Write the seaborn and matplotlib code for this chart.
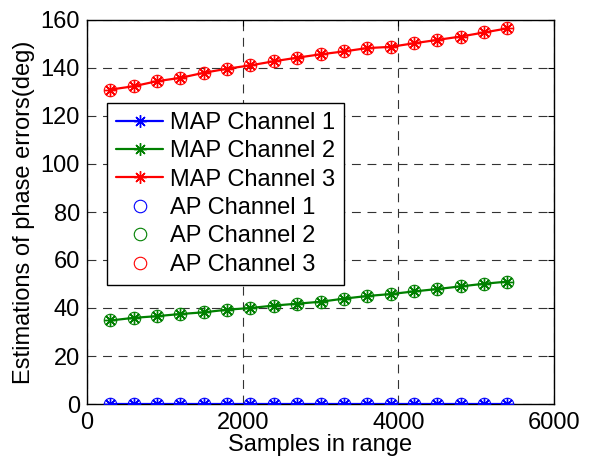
import matplotlib
matplotlib.use("Agg")
import matplotlib.pyplot as plt
import seaborn as sns
import pandas as pd

samples = [300, 600, 900, 1200, 1500, 1800, 2100, 2400, 2700, 3000,
           3300, 3600, 3900, 4200, 4500, 4800, 5100, 5400]
channel1 = [0.0] * 18
channel2 = [34.8, 35.9, 36.6, 37.5, 38.2, 39.3, 40.0, 41.0, 41.8, 42.6,
            43.9, 45.0, 45.8, 46.9, 47.9, 49.0, 50.1, 51.0]
channel3 = [131.0, 132.4, 134.5, 135.9, 138.0, 139.7, 141.1, 142.8, 144.3, 145.7,
            146.9, 148.3, 148.8, 150.3, 151.7, 153.1, 154.8, 156.5]
channel_names = ["Channel 1", "Channel 2", "Channel 3"]
colors = ["#0000ff", "#008000", "#ff0000"]
x_ticks = [0, 2000, 4000, 6000]
y_ticks = [0, 20, 40, 60, 80, 100, 120, 140, 160]

sns.set_theme(style="white")
plt.rcParams['font.family'] = ['Liberation Sans', 'DejaVu Sans']
plt.rcParams['text.color'] = 'black'
plt.rcParams['axes.labelcolor'] = 'black'

fig = plt.figure(figsize=(6.09, 4.61), dpi=100)
ax = fig.add_axes([87/609, 57/461, 467/609, 384/461])

asterisk = (8, 2, 0)
series = [channel1, channel2, channel3]
for name, vals, c in zip(channel_names, series, colors):
    df = pd.DataFrame({"x": samples, "y": vals})
    sns.lineplot(data=df, x="x", y="y", ax=ax, color=c, linewidth=1.6,
                 marker=asterisk, markersize=9, markeredgecolor=c, markerfacecolor=c,
                 markeredgewidth=1.0, label="MAP " + name, zorder=3)
for name, vals, c in zip(channel_names, series, colors):
    df = pd.DataFrame({"x": samples, "y": vals})
    sns.lineplot(data=df, x="x", y="y", ax=ax, color=c, linestyle="",
                 marker="o", markersize=9, markeredgecolor=c, markerfacecolor="none",
                 markeredgewidth=0.8, label="AP " + name, zorder=4)

ax.set_xlim(0, 6000)
ax.set_ylim(0, 160)
ax.set_xticks(x_ticks)
ax.set_yticks(y_ticks)
ax.grid(True, color="#333333", linestyle=(0, (8, 6)), linewidth=0.8)
ax.tick_params(direction="in", length=4, width=0.8, top=True, right=True,
               labelsize=17, colors="black", pad=5)
ax.tick_params(axis="x", pad=6)
for s in ax.spines.values():
    s.set_color("black")
    s.set_linewidth(1.0)
ax.set_xlabel("Samples in range", fontsize=17, labelpad=0, color="black")
ax.set_ylabel("Estimations of phase errors(deg)", fontsize=17, labelpad=4, color="black")

leg = ax.legend(loc="upper left", bbox_to_anchor=(20/467, 301/384), borderaxespad=0,
                prop={"size": 17}, frameon=True, fancybox=False, framealpha=1,
                edgecolor="black", handlelength=2.0, handletextpad=0.3,
                labelspacing=0.27, borderpad=0.38, numpoints=1)
leg.get_frame().set_linewidth(1.0)
for t in leg.get_texts():
    t.set_color("black")

fig.savefig("out.png", dpi=100)
